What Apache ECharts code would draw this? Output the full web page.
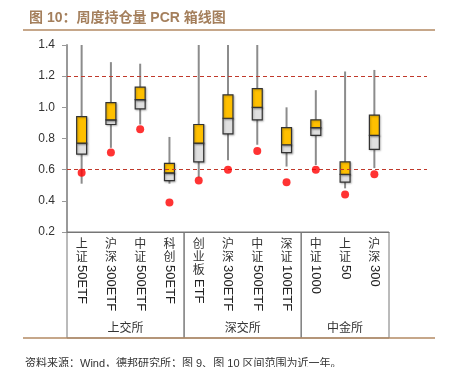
<!DOCTYPE html>
<html>
<head>
<meta charset="utf-8">
<script src="https://cdn.jsdelivr.net/npm/echarts@6/dist/echarts.min.js"></script>
<style>
  html, body { margin: 0; padding: 0; background: #fff; }
  #chart { width: 449px; height: 367px; }
</style>
</head>
<body>
<div id="chart"></div>
<script>
// 品种
const categories = ['上证50ETF', '沪深300ETF', '中证500ETF', '科创50ETF', '创业板ETF', '沪深300ETF', '中证500ETF', '深证100ETF', '中证1000', '上证50', '沪深300'];
const groups = ['上交所', '深交所', '中金所'];
const groupSizes = [4, 4, 3];

// 近一年 PCR 分布
const whiskerHigh = [1.40, 1.29, 1.28, 0.81, 1.40, 1.40, 1.40, 1.00, 1.11, 1.23, 1.24];
const q3 = [0.94, 1.03, 1.13, 0.64, 0.89, 1.08, 1.12, 0.87, 0.92, 0.65, 0.95];
const median = [0.77, 0.92, 1.05, 0.58, 0.77, 0.93, 1.00, 0.76, 0.87, 0.57, 0.82];
const q1 = [0.70, 0.89, 0.99, 0.53, 0.65, 0.83, 0.92, 0.71, 0.82, 0.52, 0.73];
const whiskerLow = [0.51, 0.74, 0.89, 0.51, 0.55, 0.66, 0.76, 0.62, 0.63, 0.48, 0.61];
// 当前值
const current = [0.58, 0.71, 0.86, 0.39, 0.53, 0.60, 0.72, 0.52, 0.60, 0.44, 0.57];
// 参考线
const refLines = [1.2, 0.6];
const yTicks = { min: 0.2, max: 1.4, interval: 0.2 };

const FONT = "'Liberation Sans', 'Noto Sans CJK SC', sans-serif";
const BROWN = '#b38a63';

function splitLabel (s) {
    const m = s.match(/^([\u4e00-\u9fff]+)(.*)$/);
    return m ? [m[1], m[2]] : ['', s];
}

const boxData = categories.map((c, i) => [i, whiskerLow[i], q1[i], median[i], q3[i], whiskerHigh[i]]);

// 分组边界
let groupAreas = [];
let start = 0;
groupSizes.forEach((n, i) => {
    groupAreas.push([{ xAxis: start, name: groups[i] }, { xAxis: start + n }]);
    start += n;
});

var myChart = echarts.init(document.getElementById('chart'));
let option = {
    animation: false,
    title: {
        text: '图 10：周度持仓量 PCR 箱线图',
        left: 24,
        top: 6,
        textStyle: { fontSize: 14, fontWeight: 'bold', color: '#a47f5c', fontFamily: FONT }
    },
    grid: [
        { left: 67, right: 60, top: 45, bottom: 135 },
        { left: 67, right: 22, top: 45, bottom: 135 },
        { left: 67, right: 60, top: 232, bottom: 29 }
    ],
    xAxis: [
        {
            type: 'category',
            gridIndex: 0,
            data: categories,
            axisLine: { lineStyle: { color: '#777', width: 1 } },
            axisTick: { show: false },
            axisLabel: {
                interval: 0,
                margin: 6,
                verticalAlign: 'top',
                lineHeight: 13,
                fontSize: 12,
                color: '#333',
                fontFamily: FONT,
                formatter: v => splitLabel(v)[0].split('').join('\n')
            }
        },
        {
            type: 'category',
            gridIndex: 0,
            position: 'bottom',
            data: categories,
            axisLine: { show: false },
            axisTick: { show: false },
            axisLabel: {
                interval: 0,
                rotate: -90,
                margin: 33,
                fontSize: 13,
                color: '#222',
                fontFamily: FONT,
                formatter: v => {
                    const p = splitLabel(v);
                    return '{p' + p[0].length + '|' + p[1] + '}';
                },
                rich: {
                    p2: { fontSize: 13, color: '#222', fontFamily: FONT },
                    p3: { fontSize: 13, color: '#222', fontFamily: FONT, padding: [0, 0, 0, 14] }
                }
            }
        },
        { type: 'value', gridIndex: 1, min: 0, max: 1, show: false },
        { type: 'value', gridIndex: 2, min: 0, max: categories.length, show: false }
    ],
    yAxis: [
        {
            type: 'value',
            gridIndex: 0,
            min: yTicks.min,
            max: yTicks.max,
            interval: yTicks.interval,
            axisLine: { show: true, lineStyle: { color: '#999', width: 2 } },
            axisTick: { show: true, length: 5, lineStyle: { color: '#999', width: 1 } },
            splitLine: { show: false },
            axisLabel: {
                margin: 12,
                fontSize: 12,
                color: '#333',
                fontFamily: FONT,
                formatter: v => v.toFixed(1)
            }
        },
        { type: 'value', gridIndex: 1, min: yTicks.min, max: yTicks.max, show: false },
        { type: 'value', gridIndex: 2, min: 0, max: 1, show: false }
    ],
    series: [
        {
            type: 'line',
            xAxisIndex: 2,
            yAxisIndex: 1,
            data: [],
            silent: true,
            markLine: {
                symbol: 'none',
                silent: true,
                label: { show: false },
                lineStyle: { color: '#c0392b', type: [4, 3], width: 1 },
                data: refLines.map(v => ({ yAxis: v }))
            }
        },
        {
            type: 'custom',
            xAxisIndex: 0,
            yAxisIndex: 0,
            data: boxData,
            renderItem: function (params, api) {
                const x = api.value(0);
                const pLow = api.coord([x, api.value(1)]);
                const pQ1 = api.coord([x, api.value(2)]);
                const pMed = api.coord([x, api.value(3)]);
                const pQ3 = api.coord([x, api.value(4)]);
                const pHigh = api.coord([x, api.value(5)]);
                const w = api.size([1, 0])[0] * 0.34;
                const cx = pMed[0];
                const shadow = { shadowBlur: 2, shadowOffsetX: 1, shadowOffsetY: 1, shadowColor: 'rgba(0,0,0,0.25)' };
                return {
                    type: 'group',
                    children: [
                        {
                            type: 'line',
                            shape: { x1: cx, y1: pHigh[1], x2: cx, y2: pLow[1] },
                            style: { stroke: '#8c8c8c', lineWidth: 2 }
                        },
                        {
                            type: 'rect',
                            shape: { x: cx - w / 2, y: pMed[1], width: w, height: pQ1[1] - pMed[1] },
                            style: Object.assign({ fill: '#e0e0e0', stroke: '#333', lineWidth: 1.2 }, shadow)
                        },
                        {
                            type: 'rect',
                            shape: { x: cx - w / 2, y: pQ3[1], width: w, height: pMed[1] - pQ3[1] },
                            style: Object.assign({ fill: '#ffc000', stroke: '#333', lineWidth: 1.2 }, shadow)
                        }
                    ]
                };
            }
        },
        {
            type: 'scatter',
            xAxisIndex: 0,
            yAxisIndex: 0,
            data: current,
            symbol: 'circle',
            symbolSize: 8,
            itemStyle: { color: '#ff0000' },
            z: 5
        },
        {
            type: 'scatter',
            xAxisIndex: 3,
            yAxisIndex: 2,
            data: [[0, 0]],
            symbolSize: 0,
            silent: true,
            markArea: {
                silent: true,
                itemStyle: { color: 'rgba(0,0,0,0)', borderColor: '#777', borderWidth: 1 },
                label: {
                    show: true,
                    position: 'insideBottom',
                    distance: 4,
                    fontSize: 12,
                    color: '#333',
                    fontFamily: FONT
                },
                data: groupAreas
            }
        }
    ],
    graphic: [
        {
            type: 'line',
            shape: { x1: 23, y1: 30, x2: 435, y2: 30 },
            style: { stroke: BROWN, lineWidth: 1.5 },
            z: 10
        },
        {
            type: 'line',
            shape: { x1: 23, y1: 338, x2: 435, y2: 338 },
            style: { stroke: BROWN, lineWidth: 1.5 },
            z: 10
        },
        {
            type: 'text',
            left: 25,
            top: 358,
            style: {
                text: '资料来源：Wind，德邦研究所；图 9、图 10 区间范围为近一年。',
                fontSize: 11,
                fill: '#333',
                fontFamily: FONT
            },
            z: 10
        }
    ]
};
myChart.setOption(option);
</script>
</body>
</html>
